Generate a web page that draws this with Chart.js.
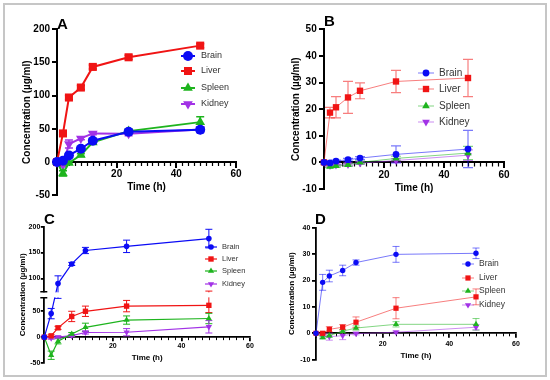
<!DOCTYPE html>
<html>
<head>
<meta charset="utf-8">
<script src="https://cdn.jsdelivr.net/npm/chart.js@4/dist/chart.umd.min.js"></script>
<style>
  body{margin:0;background:#fff;width:550px;height:380px;overflow:hidden;position:relative}
  .frame{position:absolute;left:3px;top:3px;width:540px;height:370px;border:2px solid #c6c6c6}
  canvas{position:absolute}
  .tag{position:absolute;font:bold 15px Arial,"Liberation Sans",sans-serif;line-height:15px;color:#000}
</style>
</head>
<body>
<div class="frame"></div>
<canvas id="cA"></canvas>
<canvas id="cB"></canvas>
<canvas id="cC"></canvas>
<canvas id="cD"></canvas>
<div class="tag" style="left:57px;top:16px">A</div>
<div class="tag" style="left:324px;top:13px">B</div>
<div class="tag" style="left:44px;top:211px">C</div>
<div class="tag" style="left:315px;top:211px">D</div>
<script>
const FONT = 'Arial, "Liberation Sans", sans-serif';
const hours = [0, 2, 4, 8, 12, 24, 48];
const organs = ['Brain', 'Liver', 'Spleen', 'Kidney'];
const colors = ['#0b0bf5', '#f01414', '#1eb41e', '#a232e6'];
const styles = ['circle', 'rect', 'triangle', 'triangle'];
const xMajorStep = 20, xMinorStep = 2;

// A
const aBrain  = [0, 2, 10, 20, 32, 45.5, 48.5];
const aLiver  = [0, 43, 97, 112, 143, 157.5, 175];
const aSpleen = [0, -17, -1.5, 10.5, 29.5, 46.5, 60];
const aKidney = [0, -4.5, 27, 35.5, 43, 42.5, 49];
const aBrainSd  = [0, 1, 2, 2, 3, 3, 4];
const aLiverSd  = [0, 2, 3, 3, 3, 3, 3];
const aSpleenSd = [0, 4, 2, 2, 2, 3, 8];
const aKidneySd = [0, 2, 6, 2, 2, 3, 4];

// B
const bBrain  = [0, -0.2, 0.5, 1, 1.6, 3, 5];
const bLiver  = [0, 18.7, 20.7, 24.4, 26.9, 30.4, 31.7];
const bSpleen = [0, -1.6, -1.3, -0.9, 0, 1.5, 3.5];
const bKidney = [0, -1.2, -1.0, -0.8, -0.3, 0.7, 2.7];
const bBrainSd  = [0, 0.3, 0.4, 0.5, 0.6, 3.2, 7];
const bLiverSd  = [0, 2, 4, 6, 3, 4.2, 7];
const bSpleenSd = [0, 0.4, 0.5, 0.5, 0.5, 0.8, 2.5];
const bKidneySd = [0, 0.4, 0.4, 0.5, 0.5, 0.6, 2];

// C
const cBrain  = [0, 45.5, 90, 128, 154, 162, 177];
const cLiver  = [0, 2.5, 18, 40, 50, 60, 61.5];
const cSpleen = [0, -35, -8, 6, 19, 33, 36];
const cKidney = [0, -2, 0, 3, 9, 9.5, 20];
const cBrainSd  = [0, 10, 15, 3, 6, 12, 18];
const cLiverSd  = [0, 2, 3, 10, 10, 11, 14];
const cSpleenSd = [0, 8, 5, 3, 8, 8, 10];
const cKidneySd = [0, 2, 2, 2, 3, 7, 12];

// D
const dBrain  = [0, 19.3, 21.7, 23.8, 26.8, 29.9, 30.3];
const dLiver  = [0, 0, 1.5, 2.3, 4.2, 9.5, 13.8];
const dSpleen = [0, -1.6, -0.9, 0.8, 2, 3.4, 3.4];
const dKidney = [0, -1, -1.3, -0.9, -0.1, 0.4, 2.3];
const dBrainSd  = [0, 3, 2.2, 2, 1, 3, 2];
const dLiverSd  = [0, 0.5, 1, 1, 2, 4, 3];
const dSpleenSd = [0, 0.5, 0.6, 0.6, 0.8, 1, 2.2];
const dKidneySd = [0, 0.8, 1.3, 1.5, 0.5, 0.5, 1];

// axis break for panel C
const BREAK_AT = 75, BREAK_GAP = 7;

class BrokenScale extends Chart.LinearScale {
  static id = 'broken';
  getPixelForValue(v) {
    if (v === null || v === undefined || isNaN(v)) return NaN;
    const span = this.bottom - this.top - BREAK_GAP;
    const px = this.bottom - (v - this.min) / (this.max - this.min) * span;
    return v > BREAK_AT ? px - BREAK_GAP : px;
  }
}
Chart.register(BrokenScale);

function fade(hex, a) {
  const n = parseInt(hex.slice(1), 16);
  return `rgba(${n >> 16},${(n >> 8) & 255},${n & 255},${a})`;
}

function drawMarker(ctx, i, x, y, r) {
  ctx.beginPath();
  if (styles[i] === 'circle') ctx.arc(x, y, r, 0, Math.PI * 2);
  else if (styles[i] === 'rect') { const s = r * Math.SQRT1_2; ctx.rect(x - s, y - s, 2 * s, 2 * s); }
  else {
    const d = i === 3 ? -1 : 1, w = r * Math.sin(Math.PI / 3);
    ctx.moveTo(x, y - d * r); ctx.lineTo(x + w, y + d * r / 2); ctx.lineTo(x - w, y + d * r / 2); ctx.closePath();
  }
  ctx.fill();
}

// small ticks between the labelled ones on the time axis
const minorTicks = {
  id: 'minorTicks',
  beforeDatasetsDraw(chart, args, o) {
    const {ctx, scales: {x, y}} = chart;
    const y0 = y.getPixelForValue(0);
    ctx.save();
    ctx.strokeStyle = '#000'; ctx.lineWidth = o.width;
    ctx.beginPath();
    for (let v = x.min + xMinorStep; v < x.max; v += xMinorStep) {
      if (v % xMajorStep === 0) continue;
      const px = Math.round(x.getPixelForValue(v)) + 0.5;
      ctx.moveTo(px, y0); ctx.lineTo(px, y0 + o.len);
    }
    ctx.stroke();
    ctx.restore();
  }
};

const errorBars = {
  id: 'errorBars',
  beforeDatasetsDraw(chart, args, o) {
    const {ctx, scales: {x, y}} = chart;
    ctx.save();
    ctx.lineWidth = o.width;
    chart.data.datasets.forEach(ds => {
      ctx.strokeStyle = ds.errColor;
      ds.data.forEach((pt, k) => {
        const e = ds.sd[k];
        if (!e) return;
        const px = x.getPixelForValue(pt.x);
        const top = y.getPixelForValue(pt.y + e), bot = y.getPixelForValue(pt.y - e);
        ctx.beginPath();
        ctx.moveTo(px, top); ctx.lineTo(px, bot);
        ctx.moveTo(px - o.cap, top); ctx.lineTo(px + o.cap, top);
        ctx.moveTo(px - o.cap, bot); ctx.lineTo(px + o.cap, bot);
        ctx.stroke();
      });
    });
    ctx.restore();
  }
};

const axisBreak = {
  id: 'axisBreak',
  afterDatasetsDraw(chart, args, o) {
    if (!o.on) return;
    const {ctx, chartArea: a, scales: {y}} = chart;
    const lo = y.getPixelForValue(BREAK_AT), hi = y.getPixelForValue(BREAK_AT + 1e-6);
    ctx.save();
    ctx.fillStyle = '#fff';
    ctx.fillRect(a.left - 10, hi + 1, a.right - a.left + 10, lo - hi - 2);
    ctx.strokeStyle = '#000'; ctx.lineWidth = 1.5;
    ctx.beginPath();
    ctx.moveTo(a.left - 4, hi + 0.5); ctx.lineTo(a.left + 3, hi + 0.5);
    ctx.moveTo(a.left - 4, lo - 0.5); ctx.lineTo(a.left + 3, lo - 0.5);
    ctx.stroke();
    ctx.restore();
  }
};

const organLegend = {
  id: 'organLegend',
  afterDraw(chart, args, o) {
    const ctx = chart.ctx;
    ctx.save();
    ctx.font = o.font + 'px ' + FONT;
    ctx.textBaseline = 'middle';
    chart.data.datasets.forEach((ds, i) => {
      const y = o.rows[i];
      ctx.strokeStyle = ds.borderColor; ctx.lineWidth = ds.borderWidth;
      ctx.beginPath(); ctx.moveTo(o.x - o.half, y); ctx.lineTo(o.x + o.half, y); ctx.stroke();
      ctx.fillStyle = colors[i];
      drawMarker(ctx, i, o.x, y, ds.pointRadius);
      ctx.fillStyle = '#333';
      ctx.fillText(organs[i], o.textX, y);
    });
    ctx.restore();
  }
};

function panel(id, p) {
  const el = document.getElementById(id);
  const [ox, oy, cw, ch] = p.canvas;
  el.width = cw; el.height = ch;
  el.style.left = ox + 'px'; el.style.top = oy + 'px';
  const l = p.area[0] - ox, t = p.area[1] - oy, r = p.area[2] - ox, b = p.area[3] - oy;
  const tickFont = {family: FONT, size: p.tick, weight: 'bold'};
  const titleFont = {family: FONT, size: p.title, weight: 'bold'};
  const datasets = p.series.map((vals, i) => ({
    label: organs[i],
    data: hours.map((h, k) => ({x: h, y: vals[k]})),
    sd: p.sd[i],
    errColor: fade(colors[i], p.lineAlpha),
    borderColor: fade(colors[i], p.lineAlpha),
    backgroundColor: colors[i],
    pointBackgroundColor: colors[i],
    pointBorderWidth: 0,
    pointStyle: styles[i],
    pointRotation: i === 3 ? 180 : 0,
    pointRadius: p.marker[i],
    borderWidth: p.lineWidth,
    tension: 0,
    clip: false
  }));
  new Chart(el, {
    type: 'line',
    data: {datasets},
    options: {
      responsive: false, animation: false, events: [], devicePixelRatio: 1,
      layout: {padding: {left: 0, top: t, right: cw - r, bottom: ch - b}},
      plugins: {
        legend: {display: false}, tooltip: {enabled: false},
        minorTicks: {width: p.minorW, len: p.minorLen},
        errorBars: {width: p.errW, cap: p.cap},
        axisBreak: {on: !!p.broken},
        organLegend: {x: p.legend.x - ox, half: p.legend.half, textX: p.legend.textX - ox,
                      rows: p.legend.rows.map(v => v - oy), font: p.legend.font}
      },
      scales: {
        x: {
          type: 'linear', min: 0, max: 60, position: {y: 0},
          ticks: {stepSize: xMajorStep, font: tickFont, color: '#000', padding: p.xPad, autoSkip: false, maxRotation: 0,
                  callback: v => v === 0 ? '' : v},
          grid: {drawOnChartArea: false, color: '#000', lineWidth: p.axisW, tickLength: p.tickLen},
          border: {color: '#000', width: p.axisW},
          title: {display: true, text: 'Time (h)', font: titleFont, color: '#000', padding: 0},
          afterFit(s) { s.height = p.xTitleDist + p.title * 0.6; }
        },
        y: {
          type: p.broken ? 'broken' : 'linear', min: p.y[0], max: p.y[1],
          ticks: {stepSize: p.y[2], font: tickFont, color: '#000', padding: p.yPad},
          grid: {drawOnChartArea: false, color: '#000', lineWidth: p.axisW, tickLength: p.tickLen},
          border: {color: '#000', width: p.axisW},
          title: {display: true, text: 'Concentration (µg/ml)', font: titleFont, color: '#000',
                  padding: {top: p.yTitleX - ox - p.title * 0.6, bottom: 0}},
          afterFit(s) { s.width = l; }
        }
      }
    },
    plugins: [minorTicks, errorBars, axisBreak, organLegend]
  });
}

panel('cA', {
  canvas: [0, 0, 275, 206], area: [57, 29, 236, 195.3], y: [-50, 200, 50],
  series: [aBrain, aLiver, aSpleen, aKidney], sd: [aBrainSd, aLiverSd, aSpleenSd, aKidneySd],
  tick: 10, title: 10, yTitleX: 27, xTitleDist: 25, xPad: 1, yPad: 2, tickLen: 5, minorLen: 4,
  axisW: 2, minorW: 1.2, marker: [5, 5.7, 5.6, 5.6], lineWidth: 2, lineAlpha: 1, errW: 1.5, cap: 4,
  legend: {x: 188, half: 7, textX: 201, rows: [56, 71, 88, 104], font: 9}
});
panel('cB', {
  canvas: [275, 0, 275, 206], area: [324, 29.3, 504, 189], y: [-10, 50, 10],
  series: [bBrain, bLiver, bSpleen, bKidney], sd: [bBrainSd, bLiverSd, bSpleenSd, bKidneySd],
  tick: 10, title: 10, yTitleX: 296, xTitleDist: 26, xPad: 2, yPad: 2.3, tickLen: 5, minorLen: 4,
  axisW: 2, minorW: 1.2, marker: [3.4, 4.5, 4.4, 4.4], lineWidth: 1, lineAlpha: 0.55, errW: 1.2, cap: 5,
  legend: {x: 426, half: 8, textX: 439, rows: [73, 89, 106, 122], font: 10}
});
panel('cC', {
  canvas: [0, 190, 275, 190], area: [44.3, 226.7, 250, 363], y: [-50, 200, 50], broken: true,
  series: [cBrain, cLiver, cSpleen, cKidney], sd: [cBrainSd, cLiverSd, cSpleenSd, cKidneySd],
  tick: 7, title: 8, yTitleX: 23, xTitleDist: 20.6, xPad: 1.4, yPad: 0.5, tickLen: 3.5, minorLen: 3,
  axisW: 1.8, minorW: 1, marker: [2.8, 3.8, 3.6, 3.6], lineWidth: 1.2, lineAlpha: 1, errW: 1, cap: 3.5,
  legend: {x: 211, half: 6, textX: 222, rows: [247, 259, 271, 284], font: 7.5}
});
panel('cD', {
  canvas: [275, 190, 275, 190], area: [316, 227.7, 516, 359.7], y: [-10, 40, 10],
  series: [dBrain, dLiver, dSpleen, dKidney], sd: [dBrainSd, dLiverSd, dSpleenSd, dKidneySd],
  tick: 7, title: 8, yTitleX: 292, xTitleDist: 22.4, xPad: 2.5, yPad: 1.7, tickLen: 4, minorLen: 3,
  axisW: 1.8, minorW: 1, marker: [2.7, 3.7, 3.6, 3.6], lineWidth: 1, lineAlpha: 0.55, errW: 1, cap: 3.5,
  legend: {x: 468, half: 6, textX: 479, rows: [264, 278, 291, 305], font: 8.5}
});
</script>
</body>
</html>
